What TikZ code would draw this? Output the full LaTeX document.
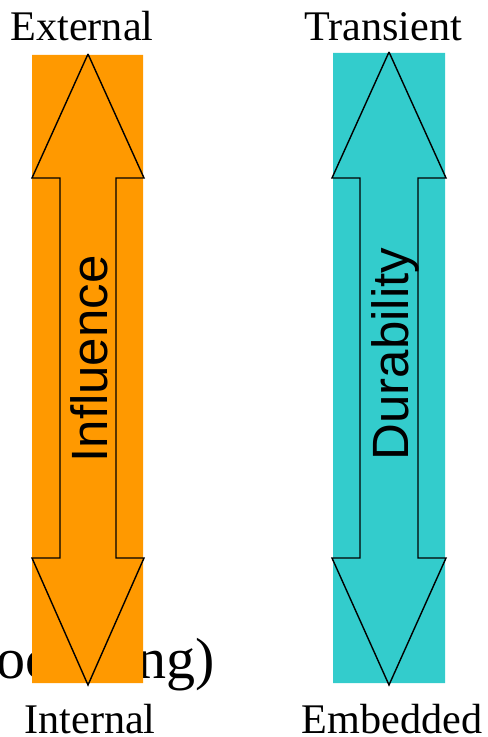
\documentclass[tikz,border=0pt]{standalone}
\usepackage{fontspec}
\setmainfont{Liberation Serif}
\newfontfamily\arialfont{Liberation Sans}
\definecolor{influenceorange}{RGB}{255,153,0}
\definecolor{durabilityteal}{RGB}{51,204,204}

\begin{document}
\begin{tikzpicture}[x=0.01cm,y=-0.01cm]
\useasboundingbox (0,0) rectangle (487,737);
% old title left behind the bars
\node [anchor=base east,inner sep=0,font=\fontsize{16.5}{19}\selectfont] (oldtitle) at (216,678) {(Processing)};

% influence bar
\fill [influenceorange] (32,55) -- (143,55) -- (143,683) -- (32,683) -- (32,55);
\filldraw [fill=influenceorange,draw=black,line width=0.4pt] (88,54) -- (144,178) -- (116,178) -- (116,558) -- (144,558) -- (88,685) -- (32,558) -- (60,558) -- (60,178) -- (32,178) -- (88,54);
\node [rotate=90,anchor=base,inner sep=0,font=\arialfont\fontsize{14.5}{17}\selectfont] (influence) at (107,359) {Influence};

% durability bar
\fill [durabilityteal] (333,53) -- (445,53) -- (445,683) -- (333,683) -- (333,53);
\filldraw [fill=durabilityteal,draw=black,line width=0.4pt] (389,52) -- (446,178) -- (418,178) -- (418,558) -- (446,558) -- (389,685) -- (332,558) -- (360,558) -- (360,178) -- (332,178) -- (389,52);
\node [rotate=90,anchor=base,inner sep=0,font=\arialfont\fontsize{14.5}{17}\selectfont] (durability) at (408,354) {Durability};

% end labels
\node [anchor=base,inner sep=0,font=\fontsize{12}{14}\selectfont] (external) at (82,41) {External};
\node [anchor=base,inner sep=0,font=\fontsize{12}{14}\selectfont] (internal) at (90,733) {Internal};
\node [anchor=base,inner sep=0,font=\fontsize{12}{14}\selectfont] (transient) at (383,41) {Transient};
\node [anchor=base,inner sep=0,font=\fontsize{12}{14}\selectfont] (embedded) at (392,733) {Embedded};

\end{tikzpicture}
\end{document}
